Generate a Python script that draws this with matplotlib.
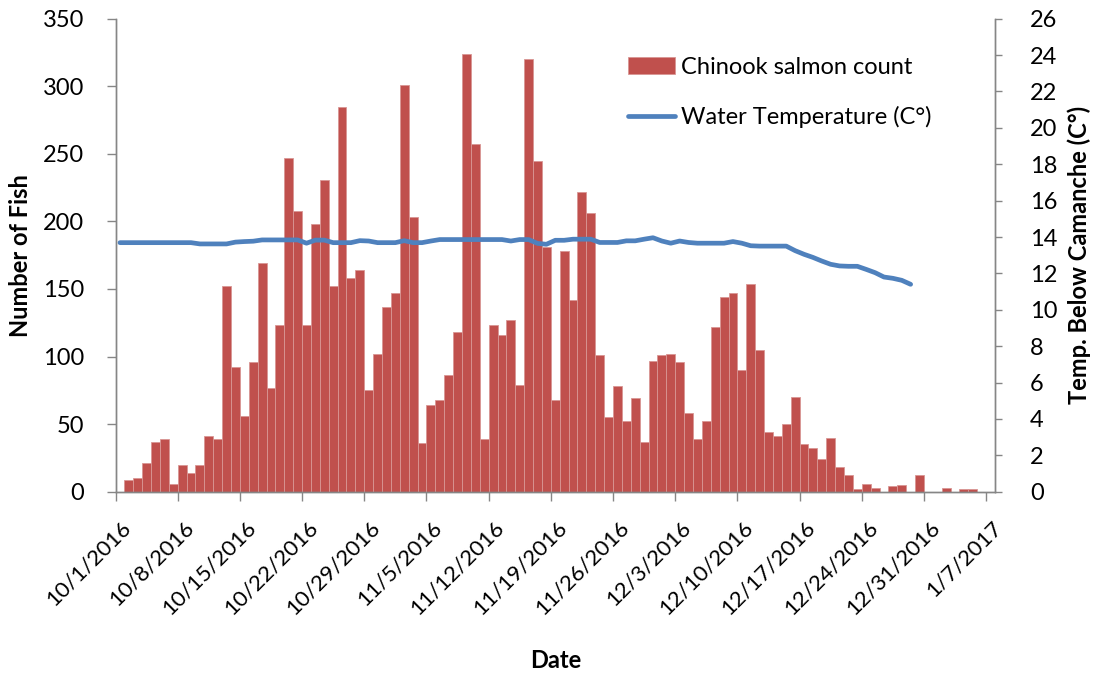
import numpy as np
import pandas as pd
import matplotlib
matplotlib.use("Agg")
import matplotlib.pyplot as plt
import matplotlib.transforms as mtransforms

plt.rcParams['font.family'] = ['Lato', 'DejaVu Sans']

# daily Chinook counts, day 0 = 10/1/2016
fish_count = [0, 9, 10, 21, 37, 39, 6, 20, 14, 20,
              41, 39, 152, 92, 56, 96, 169, 77, 123, 247,
              208, 123, 198, 231, 152, 285, 158, 164, 75, 102,
              137, 147, 301, 203, 36, 64, 68, 86, 118, 324,
              257, 39, 123, 116, 127, 79, 320, 245, 181, 68,
              178, 142, 222, 206, 101, 55, 78, 52, 69, 37,
              97, 101, 102, 96, 58, 39, 52, 122, 144, 147,
              90, 154, 105, 44, 41, 50, 70, 35, 32, 24,
              40, 18, 12, 2, 6, 3, 0, 4, 5, 0,
              12, 0, 0, 3, 0, 2, 2]

# water temperature below Camanche (C), day 0 = 10/1/2016
water_temp = [13.69, 13.69, 13.69, 13.69, 13.69, 13.69, 13.69, 13.69, 13.69, 13.62,
              13.62, 13.62, 13.62, 13.72, 13.75, 13.77, 13.84, 13.84, 13.84, 13.84,
              13.84, 13.66, 13.83, 13.83, 13.69, 13.69, 13.69, 13.80, 13.78, 13.69,
              13.69, 13.69, 13.80, 13.69, 13.69, 13.78, 13.86, 13.86, 13.86, 13.86,
              13.86, 13.86, 13.86, 13.86, 13.78, 13.86, 13.86, 13.65, 13.60, 13.82,
              13.82, 13.88, 13.88, 13.88, 13.70, 13.70, 13.70, 13.79, 13.79, 13.88,
              13.96, 13.78, 13.66, 13.78, 13.70, 13.66, 13.66, 13.66, 13.66, 13.75,
              13.66, 13.52, 13.50, 13.50, 13.50, 13.50, 13.25, 13.05, 12.88, 12.68,
              12.50, 12.41, 12.39, 12.39, 12.22, 12.04, 11.80, 11.73, 11.62, 11.40]

tick_dates = pd.date_range('2016-10-01', '2017-01-07', freq='7D')
tick_labels = [f"{d.month}/{d.day}/{d.year}" for d in tick_dates]

days_c = np.arange(len(fish_count))
days_t = np.arange(len(water_temp))
tick_pos = np.arange(len(tick_dates)) * 7

fs = 17
fig = plt.figure(figsize=(10.99, 6.81), dpi=100)
ax = fig.add_axes([0.1051, 0.278, 0.8003, 0.6945])
ax2 = ax.twinx()

bars = ax.bar(days_c + 0.5, fish_count, width=1.0, color='#C0504D',
              edgecolor='#D99694', linewidth=0.6, label='Chinook salmon count')
line, = ax2.plot(days_t + 0.5, water_temp, color='#4F81BD', lw=3.4,
                 solid_capstyle='round', solid_joinstyle='round',
                 label='Water Temperature (C°)')

ax.set_xlim(0, 99)
ax.set_ylim(0, 350)
ax2.set_ylim(0, 26)
ax.set_yticks(np.arange(0, 351, 50))
ax2.set_yticks(np.arange(0, 27, 2))

gray = '#868686'
for a in (ax, ax2):
    a.spines['top'].set_visible(False)
    for s in ('left', 'right', 'bottom'):
        a.spines[s].set_color(gray)
        a.spines[s].set_linewidth(1.0)
ax.tick_params(axis='y', direction='out', length=6.5, width=1.0, color=gray,
               labelsize=fs, pad=16)
ax.tick_params(axis='x', direction='out', length=6.5, width=1.0, color=gray,
               pad=8)
ax2.tick_params(axis='y', direction='out', length=5, width=1.0, color=gray,
                labelsize=fs, pad=20)

ax.set_xticks(tick_pos)
ax.set_xticklabels(tick_labels, rotation=45, ha='right', va='center',
                   rotation_mode='anchor', fontsize=16)
# push the slanted date labels a bit right and down (after tick_params)
offset = mtransforms.ScaledTranslation(9 / 72, -9 / 72, fig.dpi_scale_trans)
for lab in ax.get_xticklabels():
    lab.set_transform(lab.get_transform() + offset)

ax.set_xlabel('Date', fontsize=fs, fontweight='bold', labelpad=22)
ax.set_ylabel('Number of Fish', fontsize=fs, fontweight='bold', labelpad=8)
ax2.set_ylabel('Temp. Below Camanche (C°)', fontsize=fs, fontweight='bold',
               labelpad=7)

leg = ax2.legend([bars, line], [bars.get_label(), line.get_label()],
                 loc='upper left', bbox_to_anchor=(0.558, 0.964), frameon=False,
                 fontsize=fs, handlelength=2.0, handletextpad=0.25,
                 labelspacing=1.2)

fig.savefig('out.png', dpi=100)
